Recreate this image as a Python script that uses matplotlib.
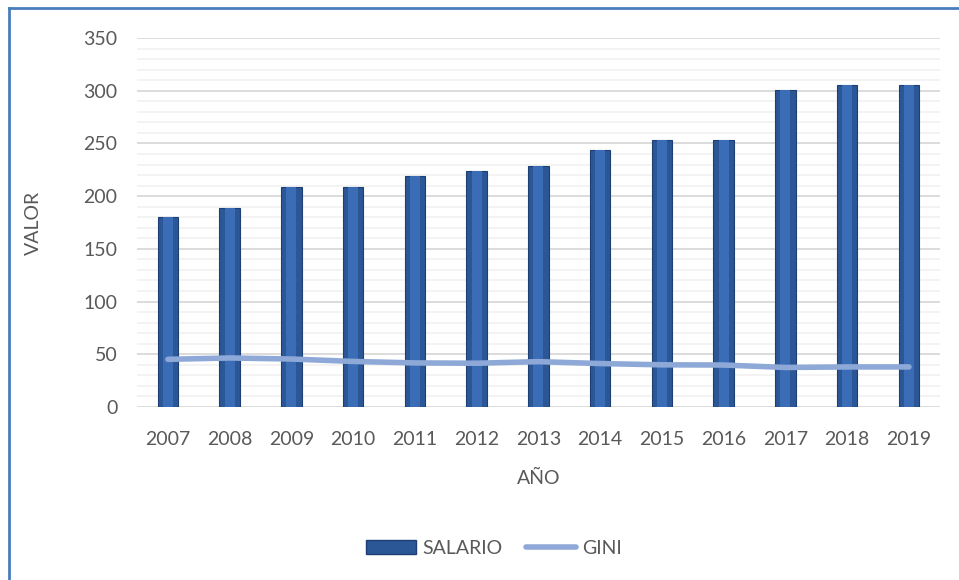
import matplotlib
matplotlib.use("Agg")
import matplotlib.pyplot as plt
from matplotlib.lines import Line2D
from matplotlib.patches import Patch
import numpy as np

years = ["2007", "2008", "2009", "2010", "2011", "2012", "2013",
         "2014", "2015", "2016", "2017", "2018", "2019"]
salario = [180, 189, 209, 209, 219, 224, 229, 244, 253, 253, 301, 305, 305]
gini = [45.2, 46.5, 45.5, 43.2, 41.8, 41.5, 43.0, 41.2, 40.0, 39.8, 37.5, 38.0, 38.0]

plt.rcParams['font.family'] = ['Lato', 'DejaVu Sans']
txt = '#595959'
fs = 14

fig = plt.figure(figsize=(9.59, 5.8), dpi=100)
ax = fig.add_axes([0.1429, 0.2983, 0.8371, 0.6362])

x = np.arange(len(years))
ax.bar(x, salario, width=0.33, color='#2B5797', edgecolor='#1E3F73', linewidth=0.8, zorder=3)
ax.bar(x, salario, width=0.16, color='#3A6DB5', linewidth=0, zorder=3.1)
ax.plot(x, gini, color='#8EA9D8', linewidth=4, solid_capstyle='round', zorder=4)

ax.set_xlim(-0.5, len(years) - 0.5)
ax.set_ylim(0, 350)
ax.set_yticks(np.arange(0, 351, 50))
ax.set_yticks(np.arange(0, 351, 10), minor=True)
ax.set_xticks(x)
ax.set_xticklabels(years)
ax.grid(axis='y', which='major', color='#D9D9D9', linewidth=1.3, zorder=0)
ax.grid(axis='y', which='minor', color='#F2F2F2', linewidth=1.3, zorder=0)
for s in ax.spines.values():
    s.set_visible(False)
ax.tick_params(axis='both', which='both', length=0, labelsize=fs, colors=txt)
ax.tick_params(axis='x', pad=17)
ax.tick_params(axis='y', pad=14)
ax.set_xlabel('AÑO', fontsize=fs, color=txt, labelpad=16)
ax.set_ylabel('VALOR', fontsize=fs, color=txt, labelpad=30)

handles = [Patch(facecolor='#2B5797', edgecolor='#1E3F73'),
           Line2D([0], [0], color='#8EA9D8', linewidth=4, solid_capstyle='round')]
fig.legend(handles, ['SALARIO', 'GINI'], loc='center', bbox_to_anchor=(0.515, 0.055),
           ncol=2, frameon=False, fontsize=fs, labelcolor=txt,
           handlelength=2.6, handletextpad=0.3, columnspacing=1.2)

# frame lines (left and top)
fig.add_artist(Line2D([9 / 959, 9 / 959], [0, 1 - 8 / 580], color='#4A7EBB', linewidth=2, transform=fig.transFigure))
fig.add_artist(Line2D([9 / 959, 1], [1 - 8 / 580, 1 - 8 / 580], color='#4A7EBB', linewidth=2, transform=fig.transFigure))

fig.savefig('out.png', dpi=100)
